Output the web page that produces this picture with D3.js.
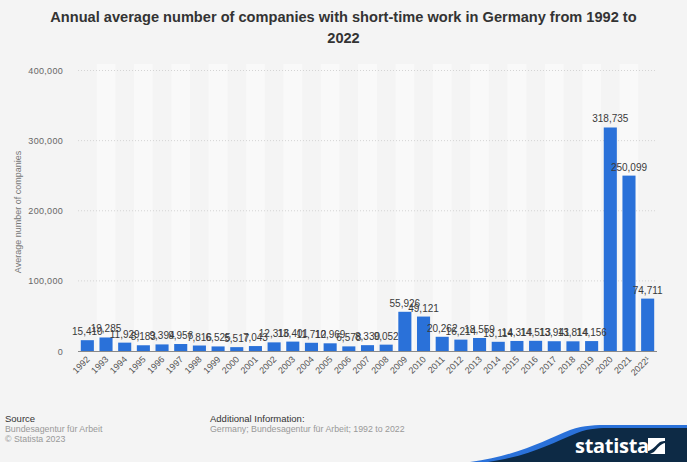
<!DOCTYPE html>
<html><head><meta charset="utf-8">
<script src="https://cdn.jsdelivr.net/npm/d3@7"></script>
<style>body{margin:0;background:#f4f4f4;}svg{display:block;font-family:"Liberation Sans",Arial,sans-serif;}</style>
</head><body>
<script>
const years = ["1992","1993","1994","1995","1996","1997","1998","1999","2000","2001","2002","2003","2004","2005","2006","2007","2008","2009","2010","2011","2012","2013","2014","2015","2016","2017","2018","2019","2020","2021","2022¹"];
const values = [15410,19285,11929,8183,9394,9956,7816,6525,5517,7043,12316,13401,11712,10969,6578,8330,9052,55926,49121,20262,16214,18559,13114,14314,14513,13941,13814,14156,318735,250099,74711];
const yTicks = [0,100000,200000,300000,400000];
const title = ["Annual average number of companies with short-time work in Germany from 1992 to","2022"];
const yTitle = "Average number of companies";

const W=687,H=462;
const svg=d3.select("body").append("svg").attr("width",W).attr("height",H);
svg.append("rect").attr("width",W).attr("height",H).attr("fill","#f4f4f4");

const x=d3.scaleBand().domain(years).range([78,657]).paddingInner(0.3).paddingOuter(0.15);
const y=d3.scaleLinear().domain([0,400000]).range([351,70.5]);

// stripes
svg.append("g").selectAll("rect").data(years.filter((d,i)=>i%2===1)).join("rect")
  .attr("x",d=>x(d)-x.step()*0.15).attr("width",x.step()).attr("y",64).attr("height",351-64)
  .attr("fill","#f9f9f9");

// grid
svg.append("g").selectAll("line").data(yTicks.filter(d=>d>0)).join("line")
  .attr("x1",78).attr("x2",657).attr("y1",d=>y(d)).attr("y2",d=>y(d))
  .attr("stroke","#d4d4d4").attr("stroke-width",1).attr("stroke-dasharray","1,2");

// y labels
svg.append("g").selectAll("text").data(yTicks).join("text")
  .attr("x",63).attr("y",d=>y(d)+3.5).attr("text-anchor","end")
  .attr("font-size","9px").attr("fill","#666").attr("letter-spacing","0.3px")
  .text(d=>d3.format(",")(d));

svg.append("text").attr("transform","translate(21,212) rotate(-90)").attr("text-anchor","middle")
  .attr("font-size","9px").attr("fill","#777").text(yTitle);

// bars
svg.append("g").selectAll("rect").data(values).join("rect")
  .attr("x",(d,i)=>x(years[i])).attr("width",x.bandwidth())
  .attr("y",d=>y(d)).attr("height",d=>y(0)-y(d)).attr("fill","#2a71d9");

// baseline
svg.append("line").attr("x1",78).attr("x2",657).attr("y1",351.5).attr("y2",351.5).attr("stroke","#8a8a8a").attr("stroke-width",1);

// value labels
svg.append("g").selectAll("text").data(values).join("text")
  .attr("x",(d,i)=>x(years[i])+x.bandwidth()/2).attr("y",d=>y(d)-5)
  .attr("text-anchor","middle").attr("font-size","10px").attr("fill","#3a3a3a")
  .text(d=>d3.format(",")(d));

// x labels
svg.append("g").selectAll("text").data(years).join("text")
  .attr("transform",d=>`translate(${x(d)+x.bandwidth()/2+3},${360}) rotate(-45)`)
  .attr("text-anchor","end").attr("font-size","9px").attr("fill","#555").text(d=>d);

// title
svg.append("g").selectAll("text").data(title).join("text")
  .attr("x",343.5).attr("y",(d,i)=>22+i*21).attr("text-anchor","middle")
  .attr("font-size","14.6px").attr("font-weight","bold").attr("fill","#333").text(d=>d);

// footer
const f=svg.append("g").attr("font-size","8.8px");
f.append("text").attr("x",5).attr("y",422).attr("fill","#333").attr("font-size","9.5px").text("Source");
f.append("text").attr("x",5).attr("y",432).attr("fill","#999").text("Bundesagentur für Arbeit");
f.append("text").attr("x",5).attr("y",442).attr("fill","#999").text("© Statista 2023");
f.append("text").attr("x",210).attr("y",422).attr("fill","#333").attr("font-size","9.5px").text("Additional Information:");
f.append("text").attr("x",210).attr("y",432).attr("fill","#999").text("Germany; Bundesagentur für Arbeit; 1992 to 2022");

// logo
svg.append("path").attr("d","M470,462 C520,455 545,440 570,430 C585,425 595,425 610,425 L687,425 L687,462 Z").attr("fill","#2a71d9");
svg.append("path").attr("d","M488,462 C530,456 552,443 577,433 C590,428 600,428 612,428 L687,428 L687,462 Z").attr("fill","#0d2a45");
svg.append("text").attr("x",575).attr("y",453).attr("font-size","20px").attr("font-weight","bold").attr("fill","#fff").attr("font-family","'Open Sans',sans-serif").attr("letter-spacing","-0.3px").text("statista");
svg.append("path").attr("d","M648,438 L665,438 L665,454 L648,454 Z").attr("fill","#fff");
svg.append("path").attr("d","M648,451 C653,450 656,445 660,442 C662,441 664,441 665,441 L665,443 C660,444 657,449 654,452 L650,454 L648,454 Z").attr("fill","#0d2a45");
</script>
</body></html>
